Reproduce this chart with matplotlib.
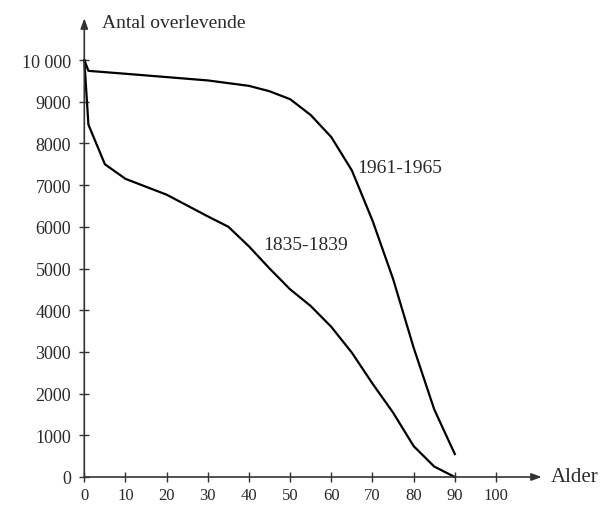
import matplotlib.pyplot as plt

# Survival curves (number alive out of 10 000 born)
ages_1961 = [0, 1, 10, 20, 30, 40, 45, 50, 55, 60, 65, 70, 75, 80, 85, 90]
surv_1961 = [10000, 9740, 9670, 9590, 9510, 9380, 9250, 9060, 8680, 8150, 7350, 6150, 4750, 3100, 1620, 550]

ages_1835 = [0, 1, 5, 10, 20, 30, 35, 40, 45, 50, 55, 60, 65, 70, 75, 80, 85, 90]
surv_1835 = [10000, 8450, 7500, 7150, 6770, 6250, 6000, 5530, 5000, 4500, 4100, 3600, 2980, 2240, 1544, 740, 250, 0]

x_ticks = [0, 10, 20, 30, 40, 50, 60, 70, 80, 90, 100]
y_ticks = [0, 1000, 2000, 3000, 4000, 5000, 6000, 7000, 8000, 9000, 10000]
y_tick_labels = ['0', '1000', '2000', '3000', '4000', '5000', '6000', '7000', '8000', '9000', '10 000']

plt.rcParams['font.family'] = ['Liberation Serif', 'DejaVu Serif']
txt_color = '#2a2a2a'

fig = plt.figure(figsize=(6.05, 5.06), dpi=100)
ax = fig.add_axes([84.3 / 605, 28 / 506, 411.7 / 605, 417 / 506])
ax.set_xlim(0, 100)
ax.set_ylim(0, 10000)

ax.plot(ages_1961, surv_1961, color='black', lw=1.6, clip_on=False, solid_joinstyle='round')
ax.plot(ages_1835, surv_1835, color='black', lw=1.6, clip_on=False, solid_joinstyle='round')

# axes drawn as arrows
for s in ax.spines.values():
    s.set_visible(False)
ax.annotate('', xy=(111.1, 0), xytext=(0, 0), annotation_clip=False,
            arrowprops=dict(arrowstyle='-|>,head_length=0.6,head_width=0.22', color='#333', lw=1.2,
                            shrinkA=0, shrinkB=0))
ax.annotate('', xy=(0, 11000), xytext=(0, 0), annotation_clip=False,
            arrowprops=dict(arrowstyle='-|>,head_length=0.6,head_width=0.22', color='#333', lw=1.2,
                            shrinkA=0, shrinkB=0))

ax.set_xticks(x_ticks)
ax.set_xticklabels([str(v) for v in x_ticks])
ax.set_yticks(y_ticks)
ax.set_yticklabels(y_tick_labels)
ax.tick_params(direction='inout', length=7, width=1.0, color='#333',
               labelsize=13, labelcolor=txt_color)
ax.tick_params(axis='x', pad=4, labelsize=12)
ax.tick_params(axis='y', pad=6)

ax.text(4.2, 10911, 'Antal overlevende', fontsize=14, color=txt_color, va='center', ha='left')
ax.text(113.4, 0, 'Alder', fontsize=15, color=txt_color, va='center', ha='left')
ax.text(66.2, 7430, '1961-1965', fontsize=14, color=txt_color, va='center', ha='left')
ax.text(43.4, 5580, '1835-1839', fontsize=14, color=txt_color, va='center', ha='left')

fig.savefig('out.png', dpi=100)
